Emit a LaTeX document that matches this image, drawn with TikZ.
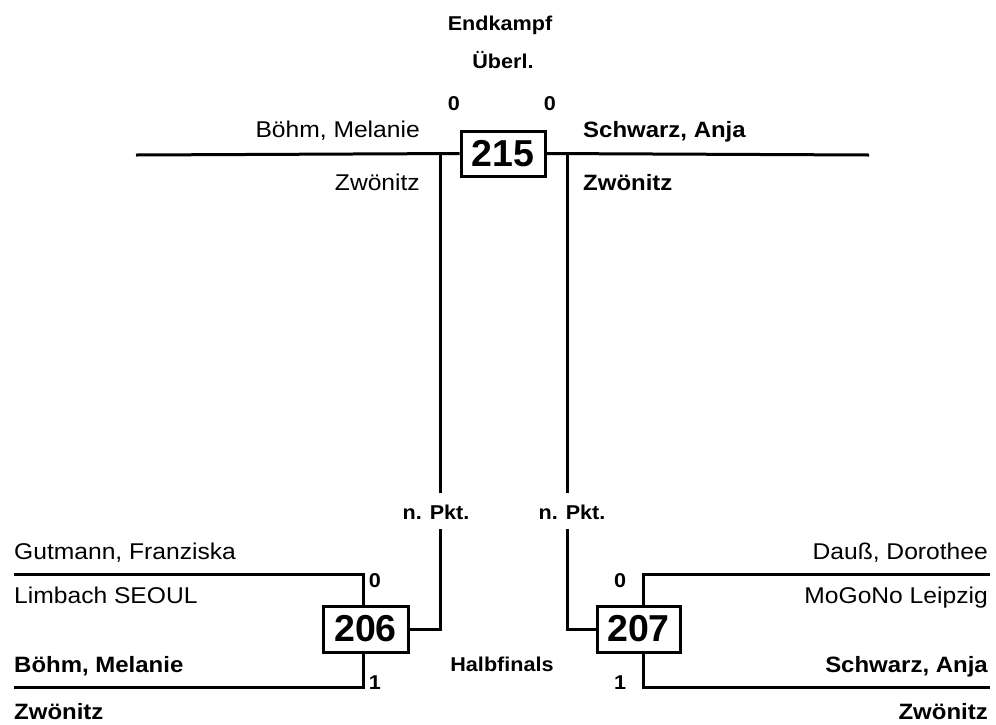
\documentclass[tikz,border=0pt]{standalone}
\usepackage{fontspec}
\setmainfont[FakeStretch=1.08]{Liberation Sans}
\newfontfamily\numfont{Liberation Sans}
\begin{document}
\begin{tikzpicture}[x=1pt,y=-1pt,
  ln/.style={line width=3pt},
  nm/.style={inner sep=0pt,font=\fontsize{22.8}{25}\selectfont},
  nmb/.style={inner sep=0pt,font=\fontsize{22.2}{25}\selectfont\bfseries},
  lb/.style={inner sep=0pt,font=\fontsize{20}{22}\selectfont\bfseries},
  bx/.style={draw,line width=3pt,minimum width=84pt,minimum height=45pt,inner sep=0pt,
    font=\numfont\fontsize{37.5}{40}\selectfont\bfseries}]
\useasboundingbox (0,0) rectangle (996,724);

% titles
\node[lb,anchor=base] (title) at (500,30) {Endkampf};
\node[lb,anchor=base] (ueberl) at (503,68) {Überl.};
\node[lb,anchor=base] (s215a) at (454,110) {0};
\node[lb,anchor=base] (s215b) at (550,110) {0};

% final box
\node[bx] (b215) at (503,153.5) {215};
\coordinate (tl) at (136,155);
\coordinate (tr) at (869,155);
\draw[ln] (tl) -- (b215.west);
\draw[ln] (b215.east) -- (tr);

\node[nm,anchor=base east] (fa1) at (420,137) {Böhm, Melanie};
\node[nm,anchor=base east] (fa2) at (420,190) {Zwönitz};
\node[nmb,anchor=base west] (fb1) at (583,137) {Schwarz, Anja};
\node[nmb,anchor=base west] (fb2) at (583,190) {Zwönitz};

% vertical connectors
\coordinate (vl1) at (440,155);
\coordinate (vl2) at (440,493);
\coordinate (vl3) at (440,529);
\coordinate (vr1) at (567,155);
\coordinate (vr2) at (567,493);
\coordinate (vr3) at (567,529);
\draw[ln] (vl1) -- (vl2);
\draw[ln] (vr1) -- (vr2);
\node[lb,anchor=base] (npl) at (436,519) {n. Pkt.};
\node[lb,anchor=base] (npr) at (572,519) {n. Pkt.};

% semifinal boxes
\node[bx,minimum width=85pt,minimum height=46pt] (b206) at (365.5,629) {206};
\node[bx,minimum width=83pt,minimum height=46pt] (b207) at (638.5,629) {207};
\draw[ln] (vl3) |- (b206.east);
\draw[ln] (vr3) |- (b207.west);

% left bracket 206
\coordinate (g1) at (14,574);
\coordinate (c1) at (363,574);
\coordinate (g2) at (14,687);
\coordinate (c2) at (363,687);
\draw[ln] (g1) -- (c1) -- (c1 |- b206.north);
\draw[ln] (g2) -- (c2) -- (c2 |- b206.south);
\node[lb,anchor=base] (s206a) at (375,587) {0};
\node[lb,anchor=base] (s206b) at (375,689) {1};

% right bracket 207
\coordinate (r1) at (990,574);
\coordinate (c3) at (643,574);
\coordinate (r2) at (990,687);
\coordinate (c4) at (643,687);
\draw[ln] (r1) -- (c3) -- (c3 |- b207.north);
\draw[ln] (r2) -- (c4) -- (c4 |- b207.south);
\node[lb,anchor=base] (s207a) at (620,587) {0};
\node[lb,anchor=base] (s207b) at (620,689) {1};

\node[lb,anchor=base] (halb) at (502,671) {Halbfinals};

% left names
\node[nm,anchor=base west] (la1) at (14,559) {Gutmann, Franziska};
\node[nm,anchor=base west] (la2) at (14,603) {Limbach SEOUL};
\node[nmb,anchor=base west] (lb1) at (14,672) {Böhm, Melanie};
\node[nmb,anchor=base west] (lb2) at (14,719) {Zwönitz};

% right names
\node[nm,anchor=base east] (ra1) at (988,559) {Dauß, Dorothee};
\node[nm,anchor=base east] (ra2) at (988,603) {MoGoNo Leipzig};
\node[nmb,anchor=base east] (rb1) at (988,672) {Schwarz, Anja};
\node[nmb,anchor=base east] (rb2) at (988,719) {Zwönitz};
\end{tikzpicture}
\end{document}
